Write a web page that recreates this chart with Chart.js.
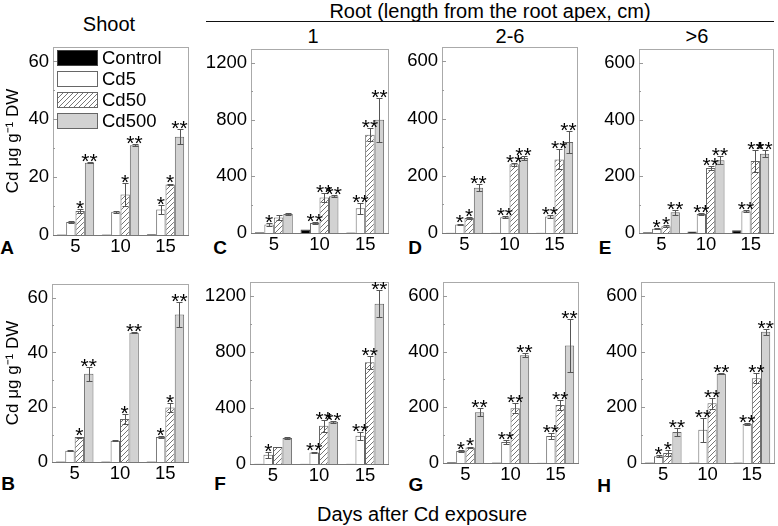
<!DOCTYPE html>
<html><head><meta charset="utf-8">
<script src="https://cdn.jsdelivr.net/npm/chart.js@4.4.0/dist/chart.umd.min.js"></script>
<style>
body{margin:0;width:778px;height:526px;background:#fff;position:relative;overflow:hidden;font-family:"Liberation Sans",Arial,sans-serif;}
canvas{position:absolute;}
.t{position:absolute;transform:translate(-50%,-50%);white-space:nowrap;font-size:20px;line-height:1;color:#000;}
.L{font-weight:bold;font-size:19px;}
.rule{position:absolute;left:206px;width:568px;top:21px;height:0;border-top:1.5px solid #111;}
</style></head><body>
<div class="t" style="left:109px;top:24px">Shoot</div>
<div class="t" style="left:490px;top:11px">Root (length from the root apex, cm)</div>
<div class="rule"></div>
<div class="t" style="left:313px;top:36px">1</div>
<div class="t" style="left:510px;top:36px">2-6</div>
<div class="t" style="left:697px;top:36px">&gt;6</div>
<div class="t" style="left:422px;top:514px">Days after Cd exposure</div>
<div class="t L" style="left:7px;top:247px">A</div>
<div class="t L" style="left:8px;top:483px">B</div>
<div class="t L" style="left:220px;top:247px">C</div>
<div class="t L" style="left:415px;top:247px">D</div>
<div class="t L" style="left:605px;top:247px">E</div>
<div class="t L" style="left:220px;top:483px">F</div>
<div class="t L" style="left:416px;top:484px">G</div>
<div class="t L" style="left:604px;top:485px">H</div>
<script>
// ---------- data ----------
const days = ['5', '10', '15'];
const seriesNames = ['Control', 'Cd5', 'Cd50', 'Cd500'];
const yTitle = 'Cd μg g⁻¹ DW';
const shootTicks = [0, 20, 40, 60];
const root1Ticks = [0, 400, 800, 1200];
const rootTicks = [0, 200, 400, 600];

// A: shoot, upper row
const A_control = [0.2, 0.2, 0.3];
const A_cd5 = [4.5, 8.0, 8.8];
const A_cd50 = [8.3, 14.0, 17.5];
const A_cd500 = [25.0, 31.0, 34.0];
const A_cd5_err = [0.2, 0.4, 1.6];
const A_cd50_err = [0.8, 4.0, 0.3];
const A_cd500_err = [0.2, 0.3, 2.5];
const A_cd5_sig = ['', '', '*'];
const A_cd50_sig = ['*', '*', '*'];
const A_cd500_sig = ['**', '**', '**'];

// B: shoot, lower row
const B_control = [0.2, 0.2, 0.2];
const B_cd5 = [4.1, 7.8, 9.1];
const B_cd50 = [9.1, 15.7, 19.9];
const B_cd500 = [32.2, 47.2, 53.9];
const B_cd5_err = [0.1, 0.3, 0.3];
const B_cd50_err = [0.2, 1.8, 1.6];
const B_cd500_err = [2.5, 0.2, 4.6];
const B_cd5_sig = ['', '', '*'];
const B_cd50_sig = ['*', '*', '*'];
const B_cd500_sig = ['**', '**', '**'];

// C: root 1 cm, upper row
const C_control = [5, 25, 3];
const C_cd5 = [60, 70, 175];
const C_cd50 = [110, 250, 695];
const C_cd500 = [135, 260, 800];
const C_cd5_err = [10, 8, 40];
const C_cd50_err = [15, 30, 45];
const C_cd500_err = [8, 5, 155];
const C_cd5_sig = ['*', '**', '**'];
const C_cd50_sig = ['', '**', '**'];
const C_cd500_sig = ['', '**', '**'];

// F: root 1 cm, lower row
const F_control = [2, 2, 2];
const F_cd5 = [66, 83, 202];
const F_cd50 = [121, 273, 726];
const F_cd500 = [185, 301, 1145];
const F_cd5_err = [20, 5, 30];
const F_cd50_err = [3, 42, 47];
const F_cd500_err = [5, 5, 95];
const F_cd5_sig = ['*', '**', '**'];
const F_cd50_sig = ['', '**', '**'];
const F_cd500_sig = ['', '**', '**'];

// D: root 2-6 cm, upper row
const D_control = [1, 1, 1];
const D_cd5 = [30, 55, 58];
const D_cd50 = [52, 240, 257];
const D_cd500 = [158, 262, 318];
const D_cd5_err = [3, 3, 5];
const D_cd50_err = [3, 5, 35];
const D_cd500_err = [12, 8, 38];
const D_cd5_sig = ['*', '**', '**'];
const D_cd50_sig = ['*', '**', '**'];
const D_cd500_sig = ['**', '**', '**'];

// G: root 2-6 cm, lower row
const G_control = [3, 2, 1];
const G_cd5 = [43, 75, 97];
const G_cd50 = [56, 197, 208];
const G_cd500 = [182, 387, 422];
const G_cd5_err = [2, 8, 10];
const G_cd50_err = [2, 17, 18];
const G_cd500_err = [14, 8, 95];
const G_cd5_sig = ['*', '**', '**'];
const G_cd50_sig = ['*', '**', '**'];
const G_cd500_sig = ['**', '**', '**'];

// E: root >6 cm, upper row
const E_control = [3, 5, 10];
const E_cd5 = [15, 67, 77];
const E_cd50 = [24, 230, 254];
const E_cd500 = [73, 257, 280];
const E_cd5_err = [2, 3, 3];
const E_cd50_err = [3, 7, 38];
const E_cd500_err = [8, 15, 12];
const E_cd5_sig = ['*', '**', '**'];
const E_cd50_sig = ['*', '**', '**'];
const E_cd500_sig = ['**', '**', '**'];

// H: root >6 cm, lower row
const H_control = [2, 2, 2];
const H_cd5 = [24, 119, 140];
const H_cd50 = [36, 215, 304];
const H_cd500 = [111, 320, 471];
const H_cd5_err = [3, 42, 5];
const H_cd50_err = [12, 20, 18];
const H_cd500_err = [14, 2, 12];
const H_cd5_sig = ['*', '**', '**'];
const H_cd50_sig = ['*', '**', '**'];
const H_cd500_sig = ['**', '**', '**'];

const none = ['', '', ''];
const zero = [0, 0, 0];

// ---------- styling / layout ----------
const FF = '"Liberation Sans", Arial, sans-serif';
Chart.defaults.font.family = FF;

function makeHatch() {
  const c = document.createElement('canvas');
  c.width = 5; c.height = 5;
  const g = c.getContext('2d');
  g.fillStyle = '#fff'; g.fillRect(0, 0, 5, 5);
  g.strokeStyle = '#777'; g.lineWidth = 1;
  g.beginPath();
  g.moveTo(0, 5); g.lineTo(5, 0);
  g.moveTo(-1, 1); g.lineTo(1, -1);
  g.moveTo(4, 6); g.lineTo(6, 4);
  g.stroke();
  return g.createPattern(c, 'repeat');
}
const fills = ['#000', '#fff', makeHatch(), '#d2d2d2'];
const borders = ['#444', '#666', '#666', '#666'];

const boxPlugin = {
  id: 'box',
  afterDatasetsDraw(chart, args, opts) {
    const {ctx, chartArea: a, scales: {y}} = chart;
    const step = opts.step;
    ctx.save();
    ctx.lineWidth = 1;
    ctx.strokeStyle = '#aaa';
    ctx.strokeRect(Math.round(a.left) + 0.5, Math.round(a.top) + 0.5, Math.round(a.right - a.left), Math.round(a.bottom - a.top));
    ctx.strokeStyle = '#777';
    ctx.beginPath();
    ctx.moveTo(a.left, Math.round(a.bottom) + 0.5); ctx.lineTo(a.right + 1, Math.round(a.bottom) + 0.5);
    ctx.stroke();
    ctx.strokeStyle = '#999';
    ctx.beginPath();
    for (let v = step / 2; v <= y.max; v += step / 2) {
      const py = Math.round(y.getPixelForValue(v)) + 0.5;
      const len = (Math.abs(v / step - Math.round(v / step)) < 1e-6) ? 4 : 2;
      ctx.moveTo(a.left, py); ctx.lineTo(a.left + len, py);
    }
    ctx.stroke();
    ctx.restore();
  }
};

const legendPlugin = {
  id: 'innerLegend',
  afterDatasetsDraw(chart, args, opts) {
    if (!opts.show) return;
    const {ctx, chartArea: a} = chart;
    ctx.save();
    chart.data.datasets.forEach((ds, i) => {
      const x = Math.round(a.left) + 4, y = Math.round(a.top) + 3 + i * 21;
      ctx.fillStyle = ds.backgroundColor;
      ctx.fillRect(x, y, 40, 15);
      ctx.strokeStyle = ds.borderColor; ctx.lineWidth = 1;
      ctx.strokeRect(x + 0.5, y + 0.5, 40, 15);
      ctx.fillStyle = '#000';
      ctx.font = '18.5px ' + FF;
      ctx.textAlign = 'left'; ctx.textBaseline = 'middle';
      ctx.fillText(ds.label, x + 45, y + 8.5);
    });
    ctx.restore();
  }
};

const errPlugin = {
  id: 'err',
  afterDatasetsDraw(chart) {
    const {ctx, scales: {y}} = chart;
    ctx.save();
    chart.data.datasets.forEach((ds, i) => {
      const meta = chart.getDatasetMeta(i);
      meta.data.forEach((bar, j) => {
        const v = ds.data[j];
        const e = ds.errors ? ds.errors[j] : 0;
        const x = Math.round(bar.x) + 0.5;
        let top = bar.y;
        if (e > 0) {
          const yt = Math.round(y.getPixelForValue(v + e)) + 0.5;
          const yb = Math.round(y.getPixelForValue(Math.max(v - e, 0))) + 0.5;
          ctx.strokeStyle = '#555'; ctx.lineWidth = 1;
          ctx.beginPath();
          ctx.moveTo(x, yt); ctx.lineTo(x, yb);
          ctx.moveTo(x - 3, yt); ctx.lineTo(x + 3, yt);
          ctx.moveTo(x - 3, yb); ctx.lineTo(x + 3, yb);
          ctx.stroke();
          top = Math.min(top, yt);
        }
        const s = ds.sig ? ds.sig[j] : '';
        if (s) {
          ctx.fillStyle = '#000';
          ctx.font = '21px ' + FF;
          ctx.textAlign = 'center';
          ctx.textBaseline = 'alphabetic';
          ctx.fillText(s, bar.x, top + 5);
        }
      });
    });
    ctx.restore();
  }
};

function makePanel(p) {
  const padTop = 16, padRight = 4, xH = 30;
  const w = p.R - p.L + p.yW + padRight;
  const h = p.B - p.T + xH + padTop;
  const c = document.createElement('canvas');
  c.width = w; c.height = h;
  c.style.left = (p.L - p.yW) + 'px';
  c.style.top = (p.T - padTop) + 'px';
  c.style.width = w + 'px'; c.style.height = h + 'px';
  document.body.appendChild(c);
  const datasets = seriesNames.map((name, i) => ({
    label: name,
    data: p.vals[i],
    errors: p.errs[i],
    sig: p.sigs[i],
    backgroundColor: fills[i],
    borderColor: borders[i],
    borderWidth: 1,
    categoryPercentage: 0.83,
    barPercentage: 1
  }));
  new Chart(c, {
    type: 'bar',
    data: {labels: days, datasets},
    options: {
      responsive: false, animation: false, devicePixelRatio: 1,
      layout: {padding: {top: padTop, right: padRight, left: 0, bottom: 0}},
      plugins: {
        legend: {display: false},
        tooltip: {enabled: false},
        innerLegend: {show: !!p.legend},
        box: {step: p.ticks[1] - p.ticks[0]}
      },
      scales: {
        x: {
          grid: {display: false, drawTicks: false}, border: {display: false},
          ticks: {color: '#000', font: {size: 18.5, family: FF}, padding: 1},
          afterFit(s) { s.height = xH; }
        },
        y: {
          min: 0, max: p.max,
          grid: {display: false, drawTicks: false}, border: {display: false},
          ticks: {color: '#000', font: {size: 18.5, family: FF}, padding: 4, callback: v => String(v)},
          afterBuildTicks(s) { s.ticks = p.ticks.map(v => ({value: v})); },
          afterFit(s) { s.width = p.yW; },
          title: {display: !!p.title, text: yTitle, color: '#000', font: {size: 17, family: FF}, padding: {top: 3, bottom: 0}}
        }
      }
    },
    plugins: [boxPlugin, errPlugin, legendPlugin]
  });
}

const panels = [
  {L: 53, R: 188, T: 47, B: 235, yW: 53, max: 65, ticks: shootTicks, title: true, legend: true,
   vals: [A_control, A_cd5, A_cd50, A_cd500], errs: [zero, A_cd5_err, A_cd50_err, A_cd500_err], sigs: [none, A_cd5_sig, A_cd50_sig, A_cd500_sig]},
  {L: 52, R: 188, T: 284, B: 462, yW: 52, max: 65, ticks: shootTicks, title: true,
   vals: [B_control, B_cd5, B_cd50, B_cd500], errs: [zero, B_cd5_err, B_cd50_err, B_cd500_err], sigs: [none, B_cd5_sig, B_cd50_sig, B_cd500_sig]},
  {L: 251, R: 388, T: 49, B: 233, yW: 56, max: 1300, ticks: root1Ticks,
   vals: [C_control, C_cd5, C_cd50, C_cd500], errs: [zero, C_cd5_err, C_cd50_err, C_cd500_err], sigs: [none, C_cd5_sig, C_cd50_sig, C_cd500_sig]},
  {L: 250, R: 388, T: 282, B: 464, yW: 56, max: 1300, ticks: root1Ticks,
   vals: [F_control, F_cd5, F_cd50, F_cd500], errs: [zero, F_cd5_err, F_cd50_err, F_cd500_err], sigs: [none, F_cd5_sig, F_cd50_sig, F_cd500_sig]},
  {L: 442, R: 577, T: 47, B: 233, yW: 56, max: 650, ticks: rootTicks,
   vals: [D_control, D_cd5, D_cd50, D_cd500], errs: [zero, D_cd5_err, D_cd50_err, D_cd500_err], sigs: [none, D_cd5_sig, D_cd50_sig, D_cd500_sig]},
  {L: 443, R: 578, T: 282, B: 463, yW: 56, max: 650, ticks: rootTicks,
   vals: [G_control, G_cd5, G_cd50, G_cd500], errs: [zero, G_cd5_err, G_cd50_err, G_cd500_err], sigs: [none, G_cd5_sig, G_cd50_sig, G_cd500_sig]},
  {L: 639, R: 773, T: 49, B: 233, yW: 56, max: 650, ticks: rootTicks,
   vals: [E_control, E_cd5, E_cd50, E_cd500], errs: [zero, E_cd5_err, E_cd50_err, E_cd500_err], sigs: [none, E_cd5_sig, E_cd50_sig, E_cd500_sig]},
  {L: 641, R: 774, T: 282, B: 463, yW: 56, max: 650, ticks: rootTicks,
   vals: [H_control, H_cd5, H_cd50, H_cd500], errs: [zero, H_cd5_err, H_cd50_err, H_cd500_err], sigs: [none, H_cd5_sig, H_cd50_sig, H_cd500_sig]}
];
panels.forEach(makePanel);
</script>
</body></html>
